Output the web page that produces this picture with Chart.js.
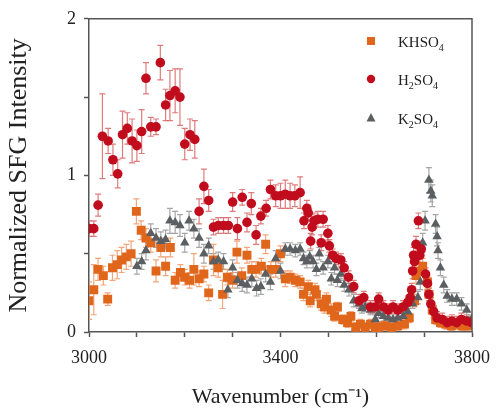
<!DOCTYPE html>
<html>
<head>
<meta charset="utf-8">
<title>SFG</title>
<script src="https://cdn.jsdelivr.net/npm/chart.js@4.4.0/dist/chart.umd.min.js"></script>
<style>
body { margin: 0; padding: 0; background: #fff; }
#wrap { width: 500px; height: 408px; }
</style>
</head>
<body>
<div id="wrap"><canvas id="grafica" width="500" height="408"></canvas></div>
<script>
// KHSO4 (cuadrados naranjas)
const khso4X = [3000,3010,3019,3030,3039, 3049,3059,3068,3078,3088, 3099,3109,3119,3129,3140, 3150,3160,3170,3180,3191,
                3200,3210,3219,3230,3240, 3250,3260,3270,3279,3289, 3300,3309,3319,3330,3340, 3349,3360,3369,3380,3390,
                3400,3410,3420,3431,3441, 3448,3458,3462,3472,3475, 3485,3492,3496,3506,3513, 3519,3530,3540,3547,3557,
                3567,3577,3588,3598,3605, 3618,3632,3645,3659,3669, 3680,3683,3690,3697,3707, 3710,3717,3724,3734,3745,
                3757,3768,3779,3790,3800];
const khso4Y = [0.20,0.27,0.40,0.36,0.21, 0.41,0.43,0.46,0.48,0.50, 0.77,0.65,0.60,0.57,0.39, 0.54,0.42,0.54,0.33,0.38,
                0.35,0.33,0.40,0.34,0.37, 0.25,0.46,0.41,0.24,0.35, 0.33,0.51,0.36,0.49,0.40, 0.40,0.42,0.56,0.40,0.40,
                0.50,0.34,0.35,0.33,0.32, 0.24,0.29,0.20,0.27,0.24, 0.18,0.16,0.21,0.14,0.10, 0.16,0.08,0.06,0.10,0.03,
                0.05,0.03,0.05,0.03,0.03, 0.04,0.03,0.04,0.05,0.09, 0.20,0.36,0.39,0.42,0.32, 0.24,0.14,0.08,0.06,0.05,
                0.04,0.05,0.04,0.04,0.05];
const khso4Err = [0.12,0.16,0.07,0.06,0.04, 0.08,0.09,0.08,0.08,0.08, 0.08,0.06,0.06,0.06,0.07, 0.06,0.06,0.06,0.05,0.05,
                  0.05,0.05,0.10,0.05,0.05, 0.05,0.10,0.06,0.09,0.05, 0.05,0.07,0.05,0.05,0.05, 0.05,0.05,0.06,0.05,0.05,
                  0.05,0.05,0.04,0.04,0.04, 0.04,0.04,0.04,0.04,0.04, 0.04,0.04,0.04,0.04,0.03, 0.03,0.03,0.03,0.03,0.03,
                  0.03,0.03,0.03,0.03,0.03, 0.03,0.03,0.03,0.03,0.03, 0.04,0.05,0.05,0.05,0.04, 0.04,0.03,0.03,0.03,0.03,
                  0.03,0.03,0.03,0.03,0.03];

// H2SO4 (circulos rojos)
const h2so4X = [3000,3010,3019,3028,3040, 3050,3060,3070,3080,3090, 3100,3110,3119,3129,3140, 3149,3160,3169,3180,3190,
                3200,3211,3221,3230,3240, 3250,3260,3270,3281,3291, 3300,3310,3320,3330,3339, 3349,3359,3370,3379,3390,
                3400,3410,3420,3430,3441, 3449,3455,3458,3463,3466, 3470,3478,3485,3489,3499, 3502,3509,3516,3526,3533,
                3542,3553,3564,3574,3588, 3598,3605,3615,3625,3635, 3645,3656,3666,3671,3674, 3676,3678,3680,3683,3688,
                3691,3694,3703,3707,3710, 3714,3720,3727,3738,3748, 3758,3768,3778,3789,3799];
const h2so4Y = [0.66,0.66,0.81,1.25,1.22, 1.10,1.01,1.26,1.30,1.22, 1.19,1.28,1.62,1.31,1.31, 1.72,1.45,1.51,1.54,1.50,
                1.20,1.26,1.23,0.77,0.93, 0.84,0.67,0.68,0.68,0.68, 0.83,0.66,0.86,0.70,0.82, 0.62,0.74,0.79,0.91,0.87,
                0.87,0.88,0.87,0.87,0.89, 0.71,0.79,0.76,0.58,0.67, 0.71,0.72,0.57,0.72,0.63, 0.55,0.49,0.47,0.46,0.41,
                0.35,0.29,0.20,0.22,0.16, 0.16,0.21,0.16,0.14,0.16, 0.14,0.16,0.19,0.22,0.27, 0.39,0.49,0.45,0.56,0.71,
                0.49,0.53,0.37,0.31,0.24, 0.18,0.13,0.09,0.08,0.06, 0.07,0.06,0.08,0.07,0.06];
const h2so4Err = [0.05,0.05,0.07,0.27,0.08, 0.10,0.09,0.15,0.10,0.14, 0.10,0.14,0.10,0.06,0.05, 0.11,0.10,0.16,0.14,0.18,
                  0.10,0.10,0.12,0.08,0.11, 0.07,0.05,0.05,0.05,0.05, 0.06,0.07,0.05,0.06,0.07, 0.06,0.05,0.05,0.06,0.07,
                  0.08,0.09,0.08,0.07,0.10, 0.05,0.05,0.05,0.05,0.05, 0.05,0.05,0.05,0.05,0.05, 0.04,0.04,0.04,0.04,0.04,
                  0.04,0.04,0.04,0.04,0.04, 0.04,0.04,0.04,0.04,0.04, 0.04,0.04,0.04,0.04,0.04, 0.05,0.05,0.05,0.05,0.05,
                  0.05,0.05,0.04,0.04,0.04, 0.04,0.04,0.04,0.04,0.04, 0.04,0.04,0.04,0.04,0.04];

// K2SO4 (triangulos grises)
const k2so4X = [3100,3110,3119,3129,3140, 3150,3160,3169,3180,3190, 3200,3209,3219,3230,3240, 3250,3260,3270,3281,3290,
                3300,3310,3320,3330,3340, 3350,3359,3369,3379,3390, 3400,3410,3420,3431,3441, 3448,3455,3461,3468,3475,
                3481,3489,3499,3506,3513, 3519,3526,3533,3543,3553, 3564,3570,3577,3588,3598, 3605,3615,3625,3635,3645,
                3656,3666,3676,3687,3692, 3697,3702,3710,3714,3717, 3724,3727,3729,3734,3741, 3748,3758,3768,3778,3789,
                3799];
const k2so4Y = [0.42,0.45,0.52,0.63,0.60, 0.58,0.59,0.71,0.70,0.68, 0.57,0.71,0.66,0.60,0.50, 0.55,0.45,0.46,0.45,0.27,
                0.41,0.33,0.31,0.30,0.34, 0.28,0.29,0.37,0.32,0.47, 0.39,0.53,0.53,0.52,0.53, 0.47,0.45,0.48,0.45,0.40,
                0.50,0.41,0.45,0.34,0.41, 0.33,0.37,0.30,0.27,0.20, 0.18,0.15,0.16,0.14,0.08, 0.12,0.10,0.09,0.08,0.09,
                0.10,0.13,0.18,0.22,0.32, 0.57,0.71,0.97,0.90,0.87, 0.69,0.61,0.52,0.41,0.30, 0.23,0.21,0.21,0.18,0.14,
                0.08];
const k2so4Err = [0.05,0.05,0.06,0.06,0.06, 0.06,0.06,0.08,0.07,0.07, 0.06,0.06,0.06,0.06,0.06, 0.05,0.05,0.05,0.05,0.05,
                  0.05,0.05,0.05,0.05,0.05, 0.05,0.05,0.05,0.05,0.05, 0.05,0.04,0.04,0.04,0.04, 0.04,0.04,0.04,0.04,0.04,
                  0.04,0.04,0.04,0.04,0.04, 0.04,0.04,0.04,0.04,0.04, 0.03,0.03,0.03,0.03,0.03, 0.03,0.03,0.03,0.03,0.03,
                  0.03,0.03,0.03,0.04,0.05, 0.06,0.06,0.08,0.07,0.07, 0.06,0.06,0.05,0.05,0.05, 0.04,0.04,0.04,0.04,0.04,
                  0.03];

const series = ['KHSO4', 'H2SO4', 'K2SO4'];
const xTicks = [3000, 3400, 3800];
const yTicks = [0, 1, 2];

function puntos(xs, ys) {
    return xs.map((x, i) => ({ x: x, y: ys[i] }));
}

// Barras de error dibujadas con las escalas de la grafica
const barrasError = {
    id: 'barrasError',
    beforeDatasetsDraw(chart) {
        const ctx = chart.ctx, ys = chart.scales.y, a = chart.chartArea;
        ctx.save();
        ctx.beginPath();
        ctx.rect(a.left, a.top, a.right - a.left, a.bottom - a.top);
        ctx.clip();
        chart.data.datasets.forEach((ds, k) => {
            const meta = chart.getDatasetMeta(k);
            ctx.strokeStyle = ds.errorColor;
            ctx.lineWidth = 1.2;
            meta.data.forEach((p, i) => {
                const v = ds.data[i].y, e = ds.errores[i];
                const y1 = ys.getPixelForValue(v + e), y2 = ys.getPixelForValue(v - e);
                ctx.beginPath();
                ctx.moveTo(p.x, y1); ctx.lineTo(p.x, y2);
                ctx.moveTo(p.x - 3, y1); ctx.lineTo(p.x + 3, y1);
                ctx.moveTo(p.x - 3, y2); ctx.lineTo(p.x + 3, y2);
                ctx.stroke();
            });
        });
        ctx.restore();
    }
};

// Marco superior y derecho + leyenda dentro del area
const marcoLeyenda = {
    id: 'marcoLeyenda',
    afterDraw(chart) {
        const ctx = chart.ctx, a = chart.chartArea;
        ctx.save();
        ctx.strokeStyle = '#555';
        ctx.lineWidth = 1.5;
        ctx.beginPath();
        ctx.moveTo(a.left, a.top); ctx.lineTo(a.right, a.top); ctx.lineTo(a.right, a.bottom);
        ctx.stroke();

        const filas = [
            { y: 41, color: '#e0661c', forma: 'sq', base: 'KHSO', sub: '4', tail: '' },
            { y: 79, color: '#c10f1f', forma: 'ci', base: 'H', sub: '2', tail: 'SO', sub2: '4' },
            { y: 118, color: '#5c5f61', forma: 'tr', base: 'K', sub: '2', tail: 'SO', sub2: '4' }
        ];
        filas.forEach(f => {
            ctx.fillStyle = f.color;
            const mx = 371;
            ctx.beginPath();
            if (f.forma === 'sq') ctx.rect(mx - 4, f.y - 4, 8, 8);
            else if (f.forma === 'ci') ctx.arc(mx, f.y, 4.2, 0, Math.PI * 2);
            else { ctx.moveTo(mx, f.y - 5); ctx.lineTo(mx + 4.5, f.y + 3.5); ctx.lineTo(mx - 4.5, f.y + 3.5); ctx.closePath(); }
            ctx.fill();

            ctx.fillStyle = '#222';
            ctx.textBaseline = 'alphabetic';
            let x = 398;
            const base = f.y + 6;
            ctx.font = '15px "Liberation Serif"';
            ctx.fillText(f.base, x, base);
            x += ctx.measureText(f.base).width;
            ctx.font = '10px "Liberation Serif"';
            ctx.fillText(f.sub, x, base + 4);
            x += ctx.measureText(f.sub).width;
            if (f.tail) {
                ctx.font = '15px "Liberation Serif"';
                ctx.fillText(f.tail, x, base);
                x += ctx.measureText(f.tail).width;
                ctx.font = '10px "Liberation Serif"';
                ctx.fillText(f.sub2, x, base + 4);
            }
        });
        ctx.restore();
    }
};

const ctx = document.getElementById('grafica').getContext('2d');
new Chart(ctx, {
    type: 'scatter',
    data: {
        datasets: [
            {
                label: series[1], data: puntos(h2so4X, h2so4Y), errores: h2so4Err,
                pointStyle: 'circle', pointRadius: 4.8, backgroundColor: '#c00c1c', borderColor: '#c00c1c',
                borderWidth: 0, errorColor: 'rgba(214,90,90,0.8)', order: 0
            },
            {
                label: series[2], data: puntos(k2so4X, k2so4Y), errores: k2so4Err,
                pointStyle: 'triangle', pointRadius: 5.5, backgroundColor: '#5c5f61', borderColor: '#5c5f61',
                borderWidth: 0, errorColor: 'rgba(150,150,150,0.85)', order: 1
            },
            {
                label: series[0], data: puntos(khso4X, khso4Y), errores: khso4Err,
                pointStyle: 'rect', pointRadius: 6.3, backgroundColor: '#e0661c', borderColor: '#e0661c',
                borderWidth: 0, errorColor: 'rgba(238,150,100,0.85)', order: 2
            }
        ]
    },
    options: {
        responsive: false,
        animation: false,
        layout: { padding: { top: 15, right: 19, left: 0, bottom: 0 } },
        plugins: {
            legend: { display: false },
            tooltip: { enabled: false }
        },
        scales: {
            x: {
                type: 'linear', min: 3000, max: 3800,
                afterFit(s) { s.height = 76; },
                border: { color: '#555', width: 1.5 },
                grid: { drawOnChartArea: false, drawTicks: true, tickLength: 5, tickColor: '#555', tickWidth: 1.5 },
                ticks: {
                    stepSize: 100, autoSkip: false, maxRotation: 0, padding: 10, color: '#222',
                    font: { family: 'Liberation Serif', size: 18 },
                    callback: v => xTicks.includes(v) ? String(v) : ''
                },
                title: {
                    display: true, text: 'Wavenumber (cm\u207B\u00B9)', color: '#222',
                    font: { family: 'Liberation Serif', size: 22 }, padding: { top: 0, bottom: -2 }
                }
            },
            y: {
                type: 'linear', min: 0, max: 2,
                afterFit(s) { s.width = 89; },
                border: { color: '#555', width: 1.5 },
                grid: { drawOnChartArea: false, drawTicks: true, tickLength: 5, tickColor: '#555', tickWidth: 1.5 },
                ticks: {
                    stepSize: 0.5, autoSkip: false, padding: 8, color: '#222',
                    font: { family: 'Liberation Serif', size: 18 },
                    callback: v => yTicks.includes(v) ? String(v) : ''
                },
                title: {
                    display: true, text: 'Normalized SFG Intensity', color: '#222',
                    font: { family: 'Liberation Serif', size: 26 }, padding: { top: 4, bottom: 0 }
                }
            }
        }
    },
    plugins: [barrasError, marcoLeyenda]
});
</script>
</body>
</html>
